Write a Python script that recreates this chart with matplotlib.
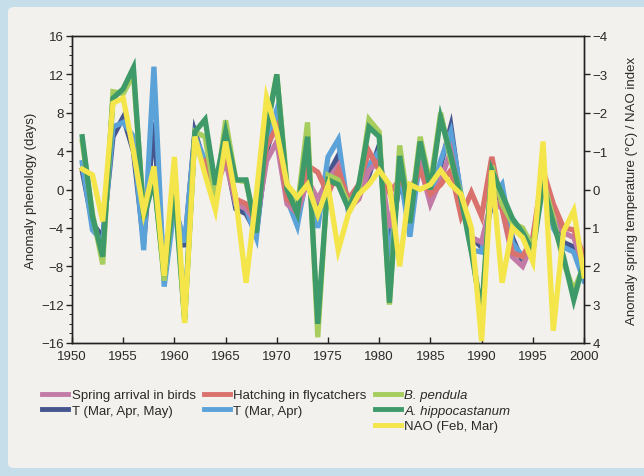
import matplotlib
matplotlib.use("Agg")
import matplotlib.pyplot as plt
from matplotlib.patches import FancyBboxPatch
from matplotlib.lines import Line2D
from matplotlib.ticker import MultipleLocator

plt.rcParams['font.family'] = ['Liberation Sans', 'DejaVu Sans']

years = list(range(1951, 2001))
bird_years = list(range(1963, 2001))

# Phenology anomalies (days)
spring_arrival = [2.0, 0.0, 3.0, -1.5, -2.0, -3.5, 3.0, 5.0, -1.5, -2.5,
                  1.0, -1.0, 1.0, 2.5, -2.0, -1.0, 2.0, 3.0, -4.0, 1.5,
                  -1.5, 2.5, -1.5, 1.0, 4.0, -1.5, -5.0, -5.5, -1.0, -2.0,
                  -7.0, -8.0, -5.5, 1.0, -3.0, -4.5, -5.0, -8.0]
hatching = [3.0, -0.5, 4.0, -1.0, -1.5, -3.0, 4.5, 6.5, -1.0, -2.0,
            2.5, 1.8, -0.5, 2.0, -1.0, 0.5, 4.0, 2.0, -0.3, 1.0,
            0.0, 2.0, -0.5, 0.5, 2.0, -2.8, -0.3, -2.8, 3.4, -2.0,
            -6.6, -7.0, -5.0, 2.0, -1.5, -4.0, -4.2, -7.0]
b_pendula = [5.0, -2.5, -7.8, 10.2, 10.0, 12.0, -2.5, 1.5, -9.5, 0.5,
             -13.8, 6.0, 5.5, -1.0, 7.2, 1.0, 0.8, -4.0, 6.5, 12.0,
             0.5, -2.0, 7.0, -15.4, 1.5, 1.0, -1.5, 0.0, 7.3, 6.0,
             -12.0, 4.6, -3.0, 5.5, 0.5, 8.0, 3.0, -0.5, -6.0, -13.2,
             2.5, -1.5, -3.5, -4.0, -6.0, 1.0, -3.0, -7.6, -10.5, -8.0]
a_hippocastanum = [5.5, -2.8, -7.0, 9.5, 10.5, 12.7, -3.0, 1.0, -9.0, 0.0,
                   -13.5, 6.0, 7.3, 0.5, 6.0, 1.0, 1.0, -4.5, 6.0, 12.0,
                   0.0, -2.5, 5.5, -14.0, 1.0, 0.5, -2.0, 0.5, 6.5, 5.5,
                   -11.8, 3.5, -3.5, 5.0, 0.0, 7.5, 3.5, -1.0, -6.5, -12.8,
                   2.0, -0.5, -3.0, -4.5, -6.5, 0.5, -3.5, -7.0, -11.5, -7.5]

# Spring temperature anomalies (deg C) and NAO index
t_mam = [-0.5, 0.88, 1.25, -1.38, -1.88, -1.0, 1.38, -1.75, 2.25, 0.38,
         1.5, -1.5, -0.63, -0.13, -0.88, 0.5, 0.63, 1.13, -1.0, -1.88,
         0.13, 0.75, -0.38, 0.63, -0.38, -0.88, 0.5, 0.13, -0.38, -1.15,
         1.63, -0.25, 0.75, -0.75, 0.25, -0.63, -1.65, 0.25, 1.25, 1.5,
         0.38, 0.0, 1.25, 1.88, 1.38, -0.38, 0.88, 1.38, 1.5, 2.13]
t_ma = [-0.7, 1.05, 1.38, -1.63, -1.75, -1.38, 1.58, -3.2, 2.53, 0.43,
        1.38, -1.38, -0.75, -0.25, -1.13, 0.38, 0.5, 1.25, -1.25, -2.08,
        0.25, 0.95, -0.5, 1.0, -0.85, -1.3, 0.6, 0.0, -0.63, -1.0,
        1.9, -0.5, 1.23, -0.88, 0.25, -0.75, -1.5, 0.13, 1.58, 1.63,
        0.25, -0.13, 1.38, 1.75, 1.5, -0.53, 1.0, 1.5, 1.63, 2.38]
nao = [-0.53, -0.38, 0.83, -2.25, -2.38, -1.0, 0.6, -0.6, 2.25, -0.85,
       3.48, -1.38, -0.38, 0.53, -1.25, 0.25, 2.43, 0.13, -2.4, -1.5,
       -0.13, 0.2, -0.13, 0.65, -0.1, 1.58, 0.63, 0.13, -0.13, -0.5,
       -0.13, 2.0, -0.13, 0.0, -0.13, -0.5, -0.13, 0.13, 1.0, 3.95,
       -0.5, 2.43, 1.0, 1.25, 1.88, -1.25, 3.68, 1.1, 0.55, 2.25]

c_spring = '#c27aa6'
c_hatch = '#d9716c'
c_bpend = '#a6cd5e'
c_ahipp = '#3e9a68'
c_tmam = '#45568f'
c_tma = '#5ba2d9'
c_nao = '#f3e54a'

bg = '#f3f1ed'
frame = '#c5deea'
txt = '#2a2a2a'
lw = 3.8

fig = plt.figure(figsize=(6.44, 4.77), dpi=100)
fig.patch.set_facecolor(frame)
fig.patches.append(FancyBboxPatch((8 / 644, 8 / 477), 660 / 644, 461 / 477,
                                  boxstyle='round,pad=0,rounding_size=0.01',
                                  transform=fig.transFigure, facecolor=bg,
                                  edgecolor='none', zorder=0))

ax = fig.add_axes([72 / 644, 1 - 344 / 477, 512 / 644, 307 / 477])
ax_t = ax.twinx()
ax_n = ax.twinx()

ax_t.set_zorder(1)
ax.set_zorder(2)
ax_n.set_zorder(3)
ax_t.patch.set_facecolor(bg)
ax.patch.set_visible(False)
ax_n.patch.set_visible(False)

# temperatures (behind)
ax_t.plot(years, t_mam, color=c_tmam, lw=lw, solid_joinstyle='miter')
ax_t.plot(years, t_ma, color=c_tma, lw=lw, solid_joinstyle='miter')
# phenology
ax.plot(bird_years, spring_arrival, color=c_spring, lw=lw, solid_joinstyle='miter')
ax.plot(bird_years, hatching, color=c_hatch, lw=lw, solid_joinstyle='miter')
ax.plot(years, b_pendula, color=c_bpend, lw=lw, solid_joinstyle='miter')
ax.plot(years, a_hippocastanum, color=c_ahipp, lw=lw, solid_joinstyle='miter')
# NAO on top
ax_n.plot(years, nao, color=c_nao, lw=lw, solid_joinstyle='miter')

ax.set_xlim(1950, 2000)
ax.set_ylim(-16, 16)
ax.set_yticks(range(-16, 17, 4))
ax.yaxis.set_minor_locator(MultipleLocator(1))
ax.set_xticks(range(1950, 2001, 5))
ax.set_yticklabels(['\u221216', '\u221212', '\u22128', '\u22124', '0', '4', '8', '12', '16'])

for a in (ax_t, ax_n):
    a.set_ylim(4, -4)
ax_t.set_yticks(range(-4, 5))
ax_t.set_yticklabels(['\u22124', '\u22123', '\u22122', '\u22121', '0', '1', '2', '3', '4'])
ax_n.axis('off')

for a in (ax, ax_t):
    for s in a.spines.values():
        s.set_color('#222222')
        s.set_linewidth(1.0)

ax.tick_params(axis='y', which='major', direction='out', length=4, width=1,
               labelsize=9.5, colors='#222222', labelcolor=txt, pad=2)
ax.tick_params(axis='y', which='minor', direction='out', length=2, width=0.7,
               colors='#222222')
ax.tick_params(axis='x', which='major', direction='in', length=4, width=1,
               labelsize=9.5, colors='#222222', labelcolor=txt, pad=5)
ax_t.tick_params(axis='y', direction='out', length=4, width=1, labelsize=9.5,
                 colors='#222222', labelcolor=txt, pad=2)

ax.set_ylabel('Anomaly phenology (days)', fontsize=9.5, color=txt)
ax.yaxis.set_label_coords(-0.068, 0.5)
ax_t.set_ylabel('Anomaly spring temperature (\u00b0C) / NAO index', fontsize=9.5,
                color=txt)
ax_t.yaxis.set_label_coords(1.082, 0.5)

# legend: three columns
blank = Line2D([], [], color='none')
handles = [
    Line2D([], [], color=c_spring, lw=3.5),
    Line2D([], [], color=c_tmam, lw=3.5),
    blank,
    Line2D([], [], color=c_hatch, lw=3.5),
    Line2D([], [], color=c_tma, lw=3.5),
    blank,
    Line2D([], [], color=c_bpend, lw=3.5),
    Line2D([], [], color=c_ahipp, lw=3.5),
    Line2D([], [], color=c_nao, lw=3.5),
]
labels = ['Spring arrival in birds', 'T (Mar, Apr, May)', ' ',
          'Hatching in flycatchers', 'T (Mar, Apr)', ' ',
          'B. pendula', 'A. hippocastanum', 'NAO (Feb, Mar)']
leg = fig.legend(handles, labels, ncol=3, loc='upper left',
                 bbox_to_anchor=(42 / 644, 1 - 390 / 477), frameon=False,
                 fontsize=9.5, handlelength=2.0, handletextpad=0.25,
                 columnspacing=0.6, labelspacing=0.25, borderaxespad=0,
                 borderpad=0)
for t, lab in zip(leg.get_texts(), labels):
    t.set_color(txt)
    if lab in ('B. pendula', 'A. hippocastanum'):
        t.set_fontstyle('italic')

fig.savefig('out.png', dpi=100, facecolor=fig.get_facecolor())
